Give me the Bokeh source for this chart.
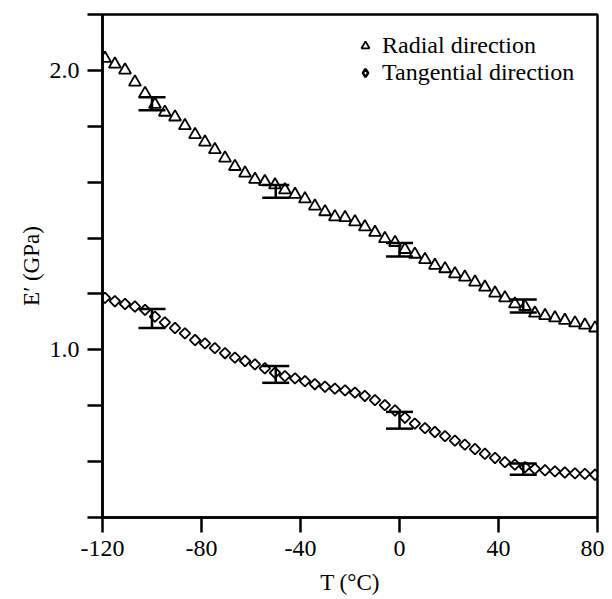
import math
from bokeh.plotting import figure
from bokeh.models import (ColumnDataSource, FixedTicker, Range1d, Whisker, TeeHead,
                          Legend, LegendItem)
from bokeh.embed import file_html
from bokeh.resources import INLINE

# ---- data ----
temperature = [-119.0, -115.0, -110.9, -106.9, -102.8, -98.8, -94.8, -90.7, -86.7, -82.6,
               -78.6, -74.6, -70.5, -66.5, -62.4, -58.4, -54.4, -50.3, -46.3, -42.2,
               -38.2, -34.2, -30.1, -26.1, -22.0, -18.0, -14.0, -9.9, -5.9, -1.8,
               2.2, 6.2, 10.3, 14.3, 18.4, 22.4, 26.4, 30.5, 34.5, 38.6,
               42.6, 46.6, 50.7, 54.7, 58.8, 62.8, 66.8, 70.9, 74.9, 79.0]

radial = [2.043, 2.022, 2.001, 1.958, 1.917, 1.878, 1.850, 1.833, 1.802, 1.770,
          1.743, 1.716, 1.686, 1.656, 1.632, 1.610, 1.602, 1.590, 1.572, 1.556,
          1.540, 1.514, 1.494, 1.476, 1.473, 1.458, 1.440, 1.420, 1.398, 1.384,
          1.359, 1.342, 1.323, 1.302, 1.290, 1.272, 1.260, 1.242, 1.224, 1.203,
          1.186, 1.164, 1.155, 1.131, 1.122, 1.114, 1.105, 1.096, 1.088, 1.078]

tangential = [1.186, 1.174, 1.164, 1.155, 1.143, 1.119, 1.098, 1.078, 1.059, 1.035,
              1.023, 1.006, 0.988, 0.972, 0.960, 0.948, 0.934, 0.918, 0.906, 0.898,
              0.888, 0.877, 0.868, 0.861, 0.855, 0.847, 0.835, 0.820, 0.802, 0.783,
              0.757, 0.736, 0.720, 0.706, 0.691, 0.675, 0.661, 0.645, 0.628, 0.613,
              0.598, 0.589, 0.580, 0.574, 0.569, 0.565, 0.561, 0.558, 0.556, 0.553]

err_T = [-100, -50, 0, 50]
radial_upper = [1.904, 1.590, 1.382, 1.180]
radial_lower = [1.857, 1.544, 1.334, 1.134]
tang_upper = [1.146, 0.942, 0.778, 0.593]
tang_lower = [1.078, 0.882, 0.718, 0.553]

x_ticks = [-120, -80, -40, 0, 40, 80]
x_tick_labels = ["-120", "-80", "-40", "0", "40", "80"]
y_ticks = [0.4, 0.6, 0.8, 1.0, 1.2, 1.4, 1.6, 1.8, 2.0, 2.2]
y_tick_labels = {1.0: "1.0", 2.0: "2.0"}

FONT = "Liberation Serif"

p = figure(width=604, height=597, output_backend="svg", toolbar_location=None,
           x_range=Range1d(-120, 80), y_range=Range1d(0.4, 2.2),
           min_border_left=102, min_border_right=7, min_border_top=14, min_border_bottom=75)
p.xgrid.visible = False
p.ygrid.visible = False
p.outline_line_color = "black"
p.outline_line_width = 2.5
p.background_fill_color = "white"

src_r = ColumnDataSource(dict(x=temperature, y=radial))
src_t = ColumnDataSource(dict(x=temperature, y=tangential))

r1 = p.scatter("x", "y", source=src_r, marker="triangle", size=12,
               line_color="black", line_width=1.8, fill_color="white", fill_alpha=0)
r2 = p.scatter("x", "y", source=src_t, marker="square", angle=math.pi / 4, size=7.5,
               line_color="black", line_width=1.8, fill_color="white", fill_alpha=0)
# hidden twin of the tangential series, used only for its legend swatch
# (the legend ignores marker angle, so a diamond marker stands in for the rotated square)
r2_leg = p.scatter("x", "y", source=src_t, marker="diamond", size=15,
                   line_color="black", line_width=2.4, fill_color="white", fill_alpha=0)
r2_leg.visible = False

for up, lo in ((radial_upper, radial_lower), (tang_upper, tang_lower)):
    es = ColumnDataSource(dict(base=err_T, upper=up, lower=lo))
    w = Whisker(base="base", upper="upper", lower="lower", source=es, dimension="height",
                line_color="black", line_width=2.5,
                upper_head=TeeHead(size=27, line_width=2.5, line_color="black"),
                lower_head=TeeHead(size=27, line_width=2.5, line_color="black"))
    p.add_layout(w)

for ax in (p.xaxis[0], p.yaxis[0]):
    ax.axis_line_width = 2.5
    ax.major_tick_line_width = 2.5
    ax.minor_tick_line_color = None
    ax.major_tick_in = 0
    ax.major_tick_out = 15
    ax.major_label_text_font = FONT
    ax.major_label_text_font_size = "24px"
    ax.major_label_text_color = "black"
    ax.axis_label_text_font = FONT
    ax.axis_label_text_font_size = "23px"
    ax.axis_label_text_font_style = "normal"
    ax.axis_label_text_color = "black"

p.xaxis.ticker = FixedTicker(ticks=x_ticks)
p.xaxis.major_label_overrides = dict(zip(x_ticks, x_tick_labels))
p.xaxis.major_label_standoff = 8
p.xaxis.axis_label = "T (°C)"
p.xaxis.axis_label_standoff = 11

p.yaxis.ticker = FixedTicker(ticks=y_ticks)
p.yaxis.major_label_overrides = {t: y_tick_labels.get(t, "") for t in y_ticks}
p.yaxis.major_label_standoff = 8
p.yaxis.axis_label = "E′ (GPa)"
p.yaxis.axis_label_standoff = 3

legend = Legend(items=[LegendItem(label="Radial direction", renderers=[r1]),
                       LegendItem(label="Tangential direction", renderers=[r2_leg])],
                location=(253, 431), orientation="vertical")
legend.label_text_font = FONT
legend.label_text_font_size = "24px"
legend.label_text_color = "black"
legend.border_line_alpha = 0
legend.background_fill_alpha = 0
legend.inactive_fill_alpha = 0
legend.padding = 0
legend.margin = 0
legend.spacing = 0
legend.glyph_width = 20
legend.glyph_height = 25
legend.label_height = 25
legend.label_standoff = 7
p.add_layout(legend)

open("out.html", "w").write(file_html(p, INLINE))
